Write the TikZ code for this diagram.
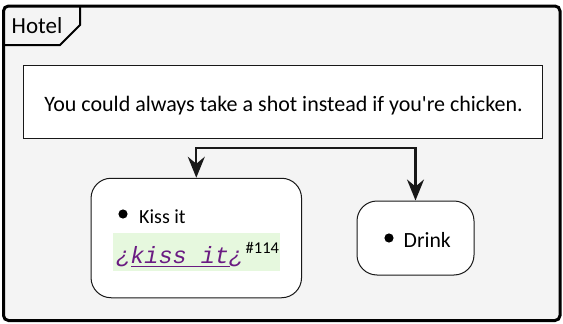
\documentclass[tikz,border=0pt]{standalone}
\usepackage{fontspec}
\setmainfont{Carlito}[Ligatures=TeXOff]
\newfontfamily\codefont{Liberation Mono}
\usetikzlibrary{arrows.meta}
\definecolor{framebg}{HTML}{F4F4F4}
\definecolor{ink}{HTML}{181818}
\definecolor{codepurple}{HTML}{6A1B82}
\definecolor{codebg}{HTML}{E6F8DE}
\tikzset{
  x=1pt,y=-1pt,
  actbox/.style={draw=ink,line width=1pt,fill=white,rounded corners=20pt},
  flow/.style={draw=ink,line width=2.2pt,-{Stealth[length=21pt,width=17pt,inset=7pt]}},
  txt/.style={inner sep=0pt,anchor=base west},
}
\begin{document}
\begin{tikzpicture}
\useasboundingbox (0,0) rectangle (563,324);
\fill[white] (0,0) rectangle (563,324);
% frame
\draw[line width=3pt,fill=framebg,rounded corners=5pt] (3.5,6) rectangle (560,320.5);
\draw[line width=2pt] (80,6) -- (80,25) -- (60,45) -- (3.5,45);
\node[txt,font=\fontsize{23}{26}\selectfont] (hotel) at (11.5,33.3) {Hotel};
% note
\node[draw=ink,line width=1pt,fill=white,minimum width=519.5pt,minimum height=73pt,inner sep=0pt] (note) at (282.75,101.75) {};
\node[txt,anchor=base,font=\fontsize{22}{26}\selectfont] (notetext) at (283.5,111) {You could always take a shot instead if you're chicken.};
% activities
\node[actbox,minimum width=210.5pt,minimum height=119.5pt,inner sep=0pt] (kiss) at (196.3,238) {};
\node[actbox,minimum width=117pt,minimum height=74pt,inner sep=0pt] (drink) at (415.5,238) {};
% kiss content
\fill (123,214) circle (4.6pt);
\node[txt,font=\fontsize{20}{24}\selectfont] (kisslabel) at (139,223) {Kiss it};
\node[fill=codebg,minimum width=167.5pt,minimum height=38.5pt,inner sep=0pt] (codebox) at (196.4,252.2) {};
\node[inner sep=0pt,anchor=base west,text=codepurple,font=\codefont\itshape\fontsize{23.5}{26}\selectfont] (code) at (116,263) {¿kiss it¿};
\draw[codepurple,line width=1.8pt] (131,266.5) -- (230,266.5);
\node[inner sep=0pt,anchor=base west,font=\fontsize{16.5}{18}\selectfont] (ref) at (245.5,253) {\#114};
% drink content
\fill (389,238) circle (4.6pt);
\node[txt,font=\fontsize{21.7}{24}\selectfont] (drinklabel) at (403.5,247.3) {Drink};
% fork
\coordinate (forkL) at (kiss.north |- 0,148.3);
\coordinate (forkR) at (drink.north |- 0,148.3);
\draw[draw=ink,line width=2.2pt,line cap=rect] (forkL) -- (forkR);
\draw[flow] (forkL) -- (kiss.north);
\draw[flow] (forkR) -- (drink.north);
\end{tikzpicture}
\end{document}
